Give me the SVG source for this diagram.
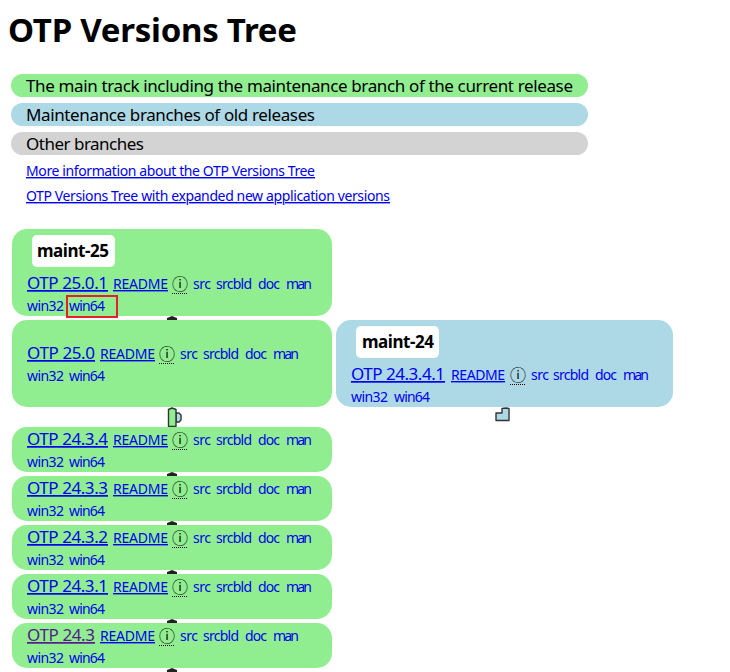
<svg xmlns="http://www.w3.org/2000/svg" width="730" height="672" viewBox="0 0 730 672">
<style>
text{font-family:"Noto Sans","Noto Sans CJK SC",sans-serif;fill:#0000ee;font-size:14px}
.t{font-size:33px;font-weight:700;fill:#000}
.l{font-size:17px;fill:#000}
.v{font-size:17px;text-decoration:underline}
.u{text-decoration:underline}
.vis{fill:#551a8b}
.i{fill:#000;font-size:16px;font-family:"Noto Sans CJK SC","DejaVu Sans",sans-serif}
.d{stroke:#000;stroke-width:1;stroke-dasharray:1 1;fill:none}
.m{font-size:17px;font-weight:700;fill:#000}
.g{fill:#90ee90}.b{fill:#add8e6}.o{fill:#d3d3d3}
.tip{fill:#222}
.c{stroke:#333;stroke-width:1.4;stroke-linejoin:round}
</style>
<rect width="730" height="672" fill="#fff"/>
<g id="header">
<text class="t" x="8" y="42" textLength="289">OTP Versions Tree</text>
</g>
<g id="legend">
<rect class="g" x="11" y="74" width="577" height="23" rx="11.5"/>
<rect class="b" x="11" y="103" width="577" height="23" rx="11.5"/>
<rect class="o" x="11" y="132" width="577" height="23" rx="11.5"/>
<text class="l" x="26" y="92" textLength="547">The main track including the maintenance branch of the current release</text>
<text class="l" x="26" y="121" textLength="289">Maintenance branches of old releases</text>
<text class="l" x="26" y="150" textLength="118">Other branches</text>
<text class="u" x="26" y="176" textLength="289">More information about the OTP Versions Tree</text>
<text class="u" x="26" y="201" textLength="364">OTP Versions Tree with expanded new application versions</text>
</g>
<g id="connectors">
<path class="tip" d="M167 320v-2l5-2 5 2v2z"/>
<path class="tip" d="M167 476v-2l5-2 5 2v2z"/>
<path class="tip" d="M167 525v-2l5-2 5 2v2z"/>
<path class="tip" d="M167 574v-2l5-2 5 2v2z"/>
<path class="tip" d="M167 623v-2l5-2 5 2v2z"/>
<path class="tip" d="M167 672v-2l5-2 5 2v2z"/>
<path class="b c" d="M176 413h3l2 2v5l-2 2h-3z"/>
<path class="g c" d="M168.500 426.500v-17l3.500-1.500 4 1.500v17z"/>
<path class="b c" d="M496 420.500v-7.500h6v-4.500l4-.5 3 .5v12z"/>
</g>
<g id="maint-25-node">
<rect class="g" x="12" y="229" width="320" height="87" rx="15"/>
<rect x="32" y="235" width="83" height="32" rx="5" fill="#fff"/>
<text class="m" x="37" y="257" textLength="72">maint-25</text>
<text class="v" x="27" y="289" textLength="81">OTP 25.0.1</text>
<text class="u" x="113" y="289" textLength="55">README</text>
<text class="i" x="172" y="290">ⓘ</text><path class="d" d="M172 293.500h16"/>
<text x="193" y="289" textLength="18">src</text><text x="216" y="289" textLength="36">srcbld</text><text x="258" y="289" textLength="22">doc</text><text x="286" y="289" textLength="26">man</text>
<text x="27" y="311" textLength="37">win32</text><text x="69" y="311" textLength="36">win64</text>
<rect x="67" y="296" width="50" height="21" fill="none" stroke="#e6202a" stroke-width="2"/>
</g>
<g id="otp-25-0">
<rect class="g" x="12" y="320" width="320" height="87" rx="15"/>
<text class="v" x="27" y="359" textLength="68">OTP 25.0</text>
<text class="u" x="100" y="359" textLength="55">README</text>
<text class="i" x="159" y="360">ⓘ</text><path class="d" d="M159 363.500h16"/>
<text x="180" y="359" textLength="18">src</text><text x="203" y="359" textLength="36">srcbld</text><text x="245" y="359" textLength="22">doc</text><text x="273" y="359" textLength="26">man</text>
<text x="27" y="381" textLength="37">win32</text><text x="69" y="381" textLength="36">win64</text>
</g>
<g id="maint-24-node">
<rect class="b" x="336" y="320" width="337" height="87" rx="15"/>
<rect x="356" y="326" width="83" height="32" rx="5" fill="#fff"/>
<text class="m" x="362" y="348" textLength="72">maint-24</text>
<text class="v" x="351" y="380" textLength="94">OTP 24.3.4.1</text>
<text class="u" x="451" y="380" textLength="54">README</text>
<text class="i" x="510" y="381">ⓘ</text><path class="d" d="M510 384.500h16"/>
<text x="531" y="380" textLength="18">src</text><text x="553" y="380" textLength="36">srcbld</text><text x="595" y="380" textLength="22">doc</text><text x="623" y="380" textLength="26">man</text>
<text x="351" y="402" textLength="37">win32</text><text x="394" y="402" textLength="36">win64</text>
</g>
<g id="otp-24-3-4">
<rect class="g" x="12" y="427" width="320" height="45" rx="15"/>
<text class="v" x="27" y="445" textLength="81">OTP 24.3.4</text>
<text class="u" x="113" y="445" textLength="55">README</text>
<text class="i" x="172" y="446">ⓘ</text><path class="d" d="M172 449.500h16"/>
<text x="193" y="445" textLength="18">src</text><text x="216" y="445" textLength="36">srcbld</text><text x="258" y="445" textLength="22">doc</text><text x="286" y="445" textLength="26">man</text>
<text x="27" y="467" textLength="37">win32</text><text x="69" y="467" textLength="36">win64</text>
</g>
<g id="otp-24-3-3">
<rect class="g" x="12" y="476" width="320" height="45" rx="15"/>
<text class="v" x="27" y="494" textLength="81">OTP 24.3.3</text>
<text class="u" x="113" y="494" textLength="55">README</text>
<text class="i" x="172" y="495">ⓘ</text><path class="d" d="M172 498.500h16"/>
<text x="193" y="494" textLength="18">src</text><text x="216" y="494" textLength="36">srcbld</text><text x="258" y="494" textLength="22">doc</text><text x="286" y="494" textLength="26">man</text>
<text x="27" y="516" textLength="37">win32</text><text x="69" y="516" textLength="36">win64</text>
</g>
<g id="otp-24-3-2">
<rect class="g" x="12" y="525" width="320" height="45" rx="15"/>
<text class="v" x="27" y="543" textLength="81">OTP 24.3.2</text>
<text class="u" x="113" y="543" textLength="55">README</text>
<text class="i" x="172" y="544">ⓘ</text><path class="d" d="M172 547.500h16"/>
<text x="193" y="543" textLength="18">src</text><text x="216" y="543" textLength="36">srcbld</text><text x="258" y="543" textLength="22">doc</text><text x="286" y="543" textLength="26">man</text>
<text x="27" y="565" textLength="37">win32</text><text x="69" y="565" textLength="36">win64</text>
</g>
<g id="otp-24-3-1">
<rect class="g" x="12" y="574" width="320" height="45" rx="15"/>
<text class="v" x="27" y="592" textLength="81">OTP 24.3.1</text>
<text class="u" x="113" y="592" textLength="55">README</text>
<text class="i" x="172" y="593">ⓘ</text><path class="d" d="M172 596.500h16"/>
<text x="193" y="592" textLength="18">src</text><text x="216" y="592" textLength="36">srcbld</text><text x="258" y="592" textLength="22">doc</text><text x="286" y="592" textLength="26">man</text>
<text x="27" y="614" textLength="37">win32</text><text x="69" y="614" textLength="36">win64</text>
</g>
<g id="otp-24-3">
<rect class="g" x="12" y="623" width="320" height="45" rx="15"/>
<text class="v vis" x="27" y="641" textLength="68">OTP 24.3</text>
<text class="u" x="100" y="641" textLength="55">README</text>
<text class="i" x="159" y="642">ⓘ</text><path class="d" d="M159 645.500h16"/>
<text x="180" y="641" textLength="18">src</text><text x="203" y="641" textLength="36">srcbld</text><text x="245" y="641" textLength="22">doc</text><text x="273" y="641" textLength="26">man</text>
<text x="27" y="663" textLength="37">win32</text><text x="69" y="663" textLength="36">win64</text>
</g>
</svg>
